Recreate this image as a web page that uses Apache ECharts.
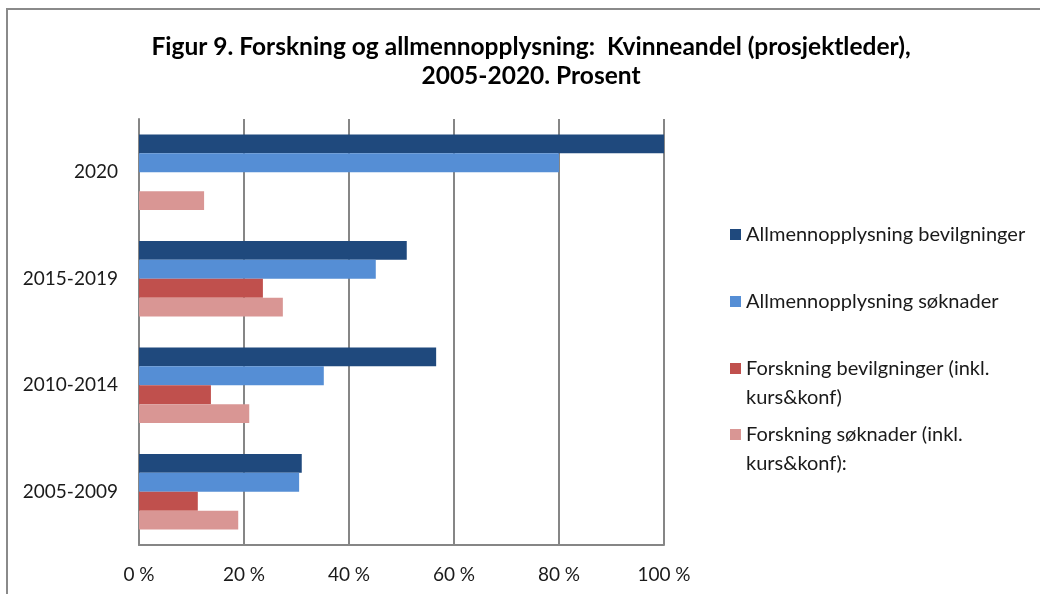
<!DOCTYPE html>
<html>
<head>
<meta charset="utf-8">
<script src="https://cdn.jsdelivr.net/npm/echarts@6/dist/echarts.min.js"></script>
<style>
  html, body { margin: 0; padding: 0; background: #fff; }
  #container { width: 1040px; height: 594px; }
</style>
</head>
<body>
<div id="container"></div>
<script>
var dom = document.getElementById("container");
var myChart = echarts.init(dom);

// periods, top to bottom
var periods = ['2020', '2015-2019', '2010-2014', '2005-2009'];
var seriesNames = [
    'Allmennopplysning bevilgninger',
    'Allmennopplysning søknader',
    'Forskning bevilgninger (inkl. kurs&konf)',
    'Forskning søknader (inkl. kurs&konf):'
];
var allmennBev = [100, 51.0, 56.6, 31.0];
var allmennSok = [80, 45.1, 35.2, 30.5];
var forskBev = [0, 23.6, 13.7, 11.2];
var forskSok = [12.4, 27.4, 21.0, 18.9];
var xTicks = [0, 20, 40, 60, 80, 100];

var colors = ['#1F497D', '#558ED5', '#C0504D', '#D99694'];
var font = 'Lato';

// one legend per item so each can sit where the reference has it
function legendFor(i, top) {
    return {
        data: [seriesNames[i]],
        left: 725,
        top: top,
        orient: 'vertical',
        icon: 'rect',
        itemWidth: 11,
        itemHeight: 11,
        selectedMode: false,
        formatter: function (name) {
            // long names wrap; an empty first line keeps the icon level with line one
            if (name.indexOf(' (inkl. ') >= 0) {
                return '\n' + name.replace(' (inkl. ', ' (inkl.\n');
            }
            return name;
        },
        textStyle: {
            fontFamily: font,
            fontSize: 20,
            color: '#1a1a1a',
            lineHeight: 29
        }
    };
}

var option = {
    backgroundColor: '#fff',
    animation: false,
    color: colors,
    title: {
        text: 'Figur 9. Forskning og allmennopplysning:  Kvinneandel (prosjektleder),\n2005-2020. Prosent',
        left: 526,
        textAlign: 'center',
        top: 28,
        textStyle: {
            fontFamily: font,
            fontSize: 24.5,
            fontWeight: 'bold',
            color: '#000',
            lineHeight: 29
        }
    },
    graphic: [{
        type: 'rect',
        shape: { x: 7, y: 9, width: 1100, height: 700 },
        style: { fill: 'none', stroke: '#8a8a8a', lineWidth: 2 },
        silent: true
    }],
    legend: [
        legendFor(0, 215),
        legendFor(1, 282),
        legendFor(2, 320),
        legendFor(3, 386)
    ],
    grid: {
        left: 139,
        right: 376,
        top: 119,
        bottom: 49,
        containLabel: false
    },
    xAxis: {
        type: 'value',
        min: 0,
        max: 100,
        interval: 20,
        axisLine: { show: true, lineStyle: { color: '#868686', width: 2 } },
        axisTick: { show: false },
        splitLine: { show: true, lineStyle: { color: '#868686', width: 2 } },
        axisLabel: {
            margin: 20,
            fontFamily: font,
            fontSize: 19,
            color: '#1a1a1a',
            formatter: function (v) {
                return xTicks.indexOf(v) >= 0 ? v + ' %' : '';
            }
        }
    },
    yAxis: {
        type: 'category',
        inverse: true,
        data: periods,
        axisLine: { show: true, lineStyle: { color: '#868686', width: 2 } },
        axisTick: { show: false },
        axisLabel: {
            margin: 21,
            fontFamily: font,
            fontSize: 19,
            color: '#1a1a1a'
        }
    },
    series: [
        { name: seriesNames[0], type: 'bar', data: allmennBev, barGap: 0, barCategoryGap: '29%' },
        { name: seriesNames[1], type: 'bar', data: allmennSok, barGap: 0, barCategoryGap: '29%' },
        { name: seriesNames[2], type: 'bar', data: forskBev, barGap: 0, barCategoryGap: '29%' },
        { name: seriesNames[3], type: 'bar', data: forskSok, barGap: 0, barCategoryGap: '29%' }
    ]
};

myChart.setOption(option);
</script>
</body>
</html>
